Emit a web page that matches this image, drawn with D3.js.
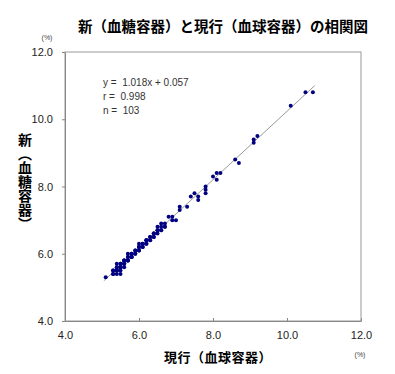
<!DOCTYPE html>
<html>
<head>
<meta charset="utf-8">
<script src="https://cdn.jsdelivr.net/npm/d3@7"></script>
<style>
  body { margin: 0; background: #fff; }
  text { font-family: "Liberation Sans", Arial, sans-serif; }
  .jp { font-family: "Noto Sans CJK JP", sans-serif; font-weight: bold; }
</style>
</head>
<body>
<div id="vis"></div>
<script>
const width = 395;
const height = 374;
const margin = { top: 52, right: 34, bottom: 53, left: 65 };

const title = "新（血糖容器）と現行（血球容器）の相関図";
const xTitle = "現行（血球容器）";
const yTitle = "新（血糖容器）";
const ticks = [4.0, 6.0, 8.0, 10.0, 12.0];
const statLines = ["y =\u00a0\u00a01.018x + 0.057", "r =\u00a0\u00a00.998", "n =\u00a0\u00a0103"];
const slope = 1.018, intercept = 0.057;
const fitRange = [5.05, 10.75];

// 現行 (x) and 新 (y), %
const current = [10.7, 10.5, 10.1, 9.2, 9.1, 9.1, 8.7, 8.6, 8.2, 8.1, 8.0, 8.1, 7.8, 7.8, 7.8, 7.5, 7.6, 7.6, 7.4, 7.3,
  7.1, 7.1, 7.0, 6.9, 6.9, 6.8, 6.7, 6.7, 6.6, 6.6, 6.6, 6.5, 6.5, 6.5, 6.4, 6.4, 6.4, 6.3, 6.3, 6.3,
  6.2, 6.2, 6.2, 6.1, 6.1, 6.1, 6.0, 6.0, 6.0, 6.0, 5.9, 5.9, 5.9, 5.8, 5.8, 5.8, 5.7, 5.7, 5.7, 5.7,
  5.6, 5.6, 5.6, 5.6, 5.5, 5.5, 5.5, 5.5, 5.5, 5.4, 5.4, 5.4, 5.4, 5.4, 5.3, 5.3, 5.3, 5.1, 5.5, 5.6,
  5.4, 5.5, 5.6, 5.7, 5.8, 5.9, 6.0, 6.1, 6.2, 6.3, 6.4, 6.5, 6.6, 6.7, 5.3, 5.4, 5.5, 5.6, 5.8, 6.0,
  6.2, 6.4, 5.7];
const newVals = [10.8, 10.8, 10.4, 9.5, 9.4, 9.3, 8.7, 8.8, 8.4, 8.4, 8.3, 8.2, 8.0, 7.8, 7.9, 7.8, 7.7, 7.6, 7.7, 7.4,
  7.3, 7.4, 7.0, 7.0, 7.1, 7.1, 6.8, 6.9, 6.8, 6.7, 6.9, 6.7, 6.6, 6.8, 6.6, 6.5, 6.6, 6.5, 6.4, 6.5,
  6.4, 6.3, 6.4, 6.3, 6.2, 6.3, 6.3, 6.2, 6.1, 6.2, 6.1, 6.0, 6.1, 5.9, 6.0, 5.9, 6.0, 5.8, 5.9, 5.8,
  5.8, 5.7, 5.8, 5.7, 5.7, 5.6, 5.5, 5.7, 5.6, 5.6, 5.5, 5.7, 5.4, 5.5, 5.5, 5.4, 5.5, 5.3, 5.4, 5.6,
  5.6, 5.6, 5.7, 5.9, 5.9, 6.0, 6.1, 6.2, 6.4, 6.4, 6.6, 6.7, 6.7, 6.8, 5.4, 5.5, 5.6, 5.8, 6.0, 6.2,
  6.3, 6.5, 5.8];

const innerW = width - margin.left - margin.right;
const innerH = height - margin.top - margin.bottom;

const xScale = d3.scaleLinear().domain([4, 12]).range([0, innerW]);
const yScale = d3.scaleLinear().domain([4, 12]).range([innerH, 0]);

const root = d3.select("#vis").append("svg")
  .attr("width", width)
  .attr("height", height);

root.append("text")
  .attr("class", "jp")
  .attr("x", 223)
  .attr("y", 32)
  .attr("text-anchor", "middle")
  .style("font-size", "14.5px")
  .text(title);

root.append("text")
  .attr("x", 47).attr("y", 40)
  .attr("text-anchor", "middle")
  .style("font-size", "7px").attr("fill", "#444")
  .text("(%)");

root.append("text")
  .attr("x", 360).attr("y", 357)
  .attr("text-anchor", "middle")
  .style("font-size", "7px").attr("fill", "#444")
  .text("(%)");

const svg = root.append("g")
  .attr("transform", "translate(" + margin.left + "," + margin.top + ")");

// frame
svg.append("rect")
  .attr("width", innerW).attr("height", innerH)
  .attr("fill", "none").attr("stroke", "#999").attr("stroke-width", 1);

const xAxis = d3.axisBottom(xScale).tickValues(ticks).tickSizeInner(-3).tickSizeOuter(0)
  .tickPadding(10).tickFormat(d3.format(".1f"));
const yAxis = d3.axisLeft(yScale).tickValues(ticks).tickSizeInner(3).tickSizeOuter(0)
  .tickPadding(9).tickFormat(d3.format(".1f"));

const gx = svg.append("g")
  .attr("transform", "translate(0," + innerH + ")")
  .call(xAxis);
const gy = svg.append("g").call(yAxis);

[gx, gy].forEach(g => {
  g.select(".domain").attr("stroke", "#888");
  g.selectAll(".tick line").attr("stroke", "#888");
  g.selectAll(".tick text")
    .attr("fill", "#222")
    .style("font-size", "11px")
    .style("font-family", "'Liberation Sans', Arial, sans-serif");
});

// regression line
svg.append("line")
  .attr("x1", xScale(fitRange[0]))
  .attr("y1", yScale(slope * fitRange[0] + intercept))
  .attr("x2", xScale(fitRange[1]))
  .attr("y2", yScale(slope * fitRange[1] + intercept))
  .attr("stroke", "#999").attr("stroke-width", 1);

svg.selectAll("circle")
  .data(current.map((c, i) => [c, newVals[i]]))
  .enter()
  .append("circle")
  .attr("cx", d => xScale(d[0]))
  .attr("cy", d => yScale(d[1]))
  .attr("r", 2)
  .attr("fill", "#000080");

svg.append("g")
  .selectAll("text")
  .data(statLines)
  .enter()
  .append("text")
  .attr("x", 38)
  .attr("y", (d, i) => 34 + i * 14)
  .style("font-size", "10px")
  .attr("fill", "#333")
  .text(d => d);

root.append("text")
  .attr("class", "jp")
  .attr("x", 218)
  .attr("y", 362)
  .attr("text-anchor", "middle")
  .style("font-size", "13px")
  .attr("letter-spacing", "0.5px")
  .text(xTitle);

root.append("text")
  .attr("class", "jp")
  .attr("x", 25)
  .attr("y", 133)
  .style("writing-mode", "vertical-rl")
  .style("font-size", "14px")
  .text(yTitle);
</script>
</body>
</html>
